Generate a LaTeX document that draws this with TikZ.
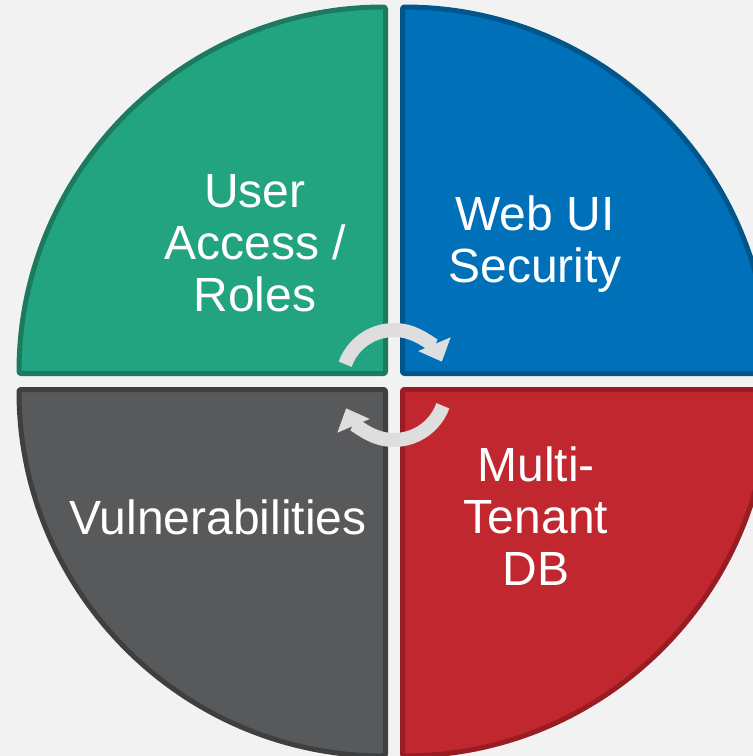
\documentclass[tikz,border=0pt]{standalone}
\usepackage{fontspec}
\setmainfont{Liberation Sans}
\usetikzlibrary{arrows.meta}
\definecolor{bg}{HTML}{F2F2F2}
\definecolor{qgreen}{HTML}{23A480}
\definecolor{qgreenb}{HTML}{1C7A5E}
\definecolor{qblue}{HTML}{0070B8}
\definecolor{qblueb}{HTML}{00558B}
\definecolor{qred}{HTML}{C1272F}
\definecolor{qredb}{HTML}{981D23}
\definecolor{qgray}{HTML}{58595B}
\definecolor{qgrayb}{HTML}{3E3F41}
\definecolor{arrowgray}{HTML}{DEDEDE}
\begin{document}
\begin{tikzpicture}[x=1pt,y=-1pt,
  quad/.style={line width=5pt, rounded corners=2pt, line join=round},
  lbl/.style={text=white, font=\fontsize{48}{52}\selectfont, align=center, inner sep=0pt},
  cyc/.style={line width=14pt, draw=arrowgray, -{Triangle[width=34pt,length=19pt]}}]
\fill[bg] (0,0) rectangle (753,756);
\useasboundingbox (0,0) rectangle (753,756);
\clip (0,0) rectangle (753,756);
% quadrants
\filldraw[quad, fill=qgreen, draw=qgreenb] (385.5,373.5) -- (19,373.5) arc[start angle=180, end angle=270, radius=366.5] -- cycle;
\filldraw[quad, fill=qblue, draw=qblueb] (402.5,373.5) -- (402.5,7) arc[start angle=270, end angle=360, radius=366.5] -- cycle;
\filldraw[quad, fill=qred, draw=qredb] (402.5,389.5) -- (769,389.5) arc[start angle=0, end angle=90, radius=366.5] -- cycle;
\filldraw[quad, fill=qgray, draw=qgrayb] (385.5,389.5) -- (385.5,756) arc[start angle=90, end angle=180, radius=366.5] -- cycle;
% cycle arrows
\draw[cyc] (394,382) ++(200:52) arc[start angle=200, end angle=337, radius=52];
\draw[cyc] (394,388) ++(20:52) arc[start angle=20, end angle=157, radius=52];
% labels
\node[lbl] (ua) at (255,243) {User\\Access /\\Roles};
\node[lbl] (web) at (535,244) {Web UI\\Security};
\node[lbl] (vul) at (218,517) {Vulnerabilities};
\node[lbl] (mt) at (536,516) {Multi-\\Tenant\\DB};
\end{tikzpicture}
\end{document}
